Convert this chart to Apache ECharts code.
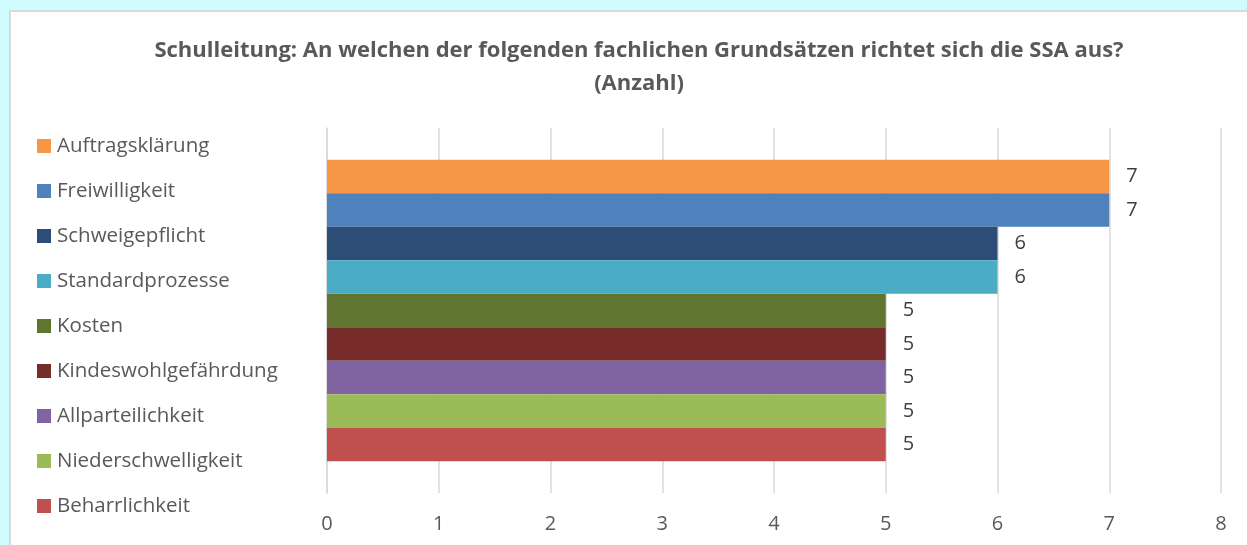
<!DOCTYPE html>
<html>
<head>
<meta charset="utf-8">
<script src="https://cdn.jsdelivr.net/npm/echarts@6/dist/echarts.min.js"></script>
<style>
  html, body { margin: 0; padding: 0; width: 1247px; height: 545px; overflow: hidden; background: #cdfbfe; }
  #panel { position: absolute; left: 9px; top: 10px; width: 1260px; height: 560px; background: #fff; border: 2px solid #d9d9d9; box-sizing: border-box; }
  #chart { position: absolute; left: 0; top: 0; width: 1247px; height: 545px; }
</style>
</head>
<body>
<div id="panel"></div>
<div id="chart"></div>
<script>
// Daten
const categories = ['Anzahl'];
const seriesNames = [
    'Auftragsklärung', 'Freiwilligkeit', 'Schweigepflicht', 'Standardprozesse',
    'Kosten', 'Kindeswohlgefährdung', 'Allparteilichkeit', 'Niederschwelligkeit', 'Beharrlichkeit'
];
const seriesValues = [7, 7, 6, 6, 5, 5, 5, 5, 5];
const seriesColors = ['#f79646', '#4f81bd', '#2c4d75', '#4bacc6', '#5f7530', '#772c2a', '#8064a2', '#9bbb59', '#c0504d'];
const xTicks = [0, 1, 2, 3, 4, 5, 6, 7, 8];

const font = '"Open Sans", "Liberation Sans", sans-serif';
const chart = echarts.init(document.getElementById('chart'));

const option = {
    backgroundColor: 'transparent',
    animation: false,
    title: {
        text: 'Schulleitung: An welchen der folgenden fachlichen Grundsätzen richtet sich die SSA aus?\n(Anzahl)',
        left: 634,
        top: 29,
        textAlign: 'center',
        textStyle: {
            fontFamily: font,
            fontSize: 22,
            fontWeight: 'bold',
            color: '#595959',
            lineHeight: 33
        }
    },
    legend: {
        orient: 'vertical',
        left: 37,
        top: 135,
        padding: 0,
        icon: 'rect',
        itemWidth: 14,
        itemHeight: 14,
        itemGap: 23,
        data: seriesNames,
        textStyle: { fontFamily: font, fontSize: 20.5, lineHeight: 22, color: '#595959', padding: [0, 0, 0, 1] }
    },
    grid: {
        left: 327,
        right: 26,
        top: 128,
        bottom: 52,
        containLabel: false
    },
    xAxis: {
        type: 'value',
        min: xTicks[0],
        max: xTicks[xTicks.length - 1],
        interval: 1,
        axisLine: { show: false },
        axisTick: { show: false },
        splitLine: { show: true, lineStyle: { color: '#d9d9d9', width: 1.5 } },
        axisLabel: { fontFamily: font, fontSize: 20, color: '#595959', margin: 21 }
    },
    yAxis: {
        type: 'category',
        data: categories,
        axisLine: { show: true, lineStyle: { color: '#d9d9d9', width: 1.5 } },
        axisTick: { show: false },
        axisLabel: { show: false }
    },
    series: seriesNames.map((name, i) => ({
        name: name,
        type: 'bar',
        data: [seriesValues[i]],
        barWidth: 33.5,
        barGap: '0%',
        itemStyle: { color: seriesColors[i] },
        label: {
            show: true,
            position: 'right',
            distance: 17,
            fontFamily: font,
            fontSize: 20,
            color: '#404040'
        }
    }))
};

chart.setOption(option);
</script>
</body>
</html>
